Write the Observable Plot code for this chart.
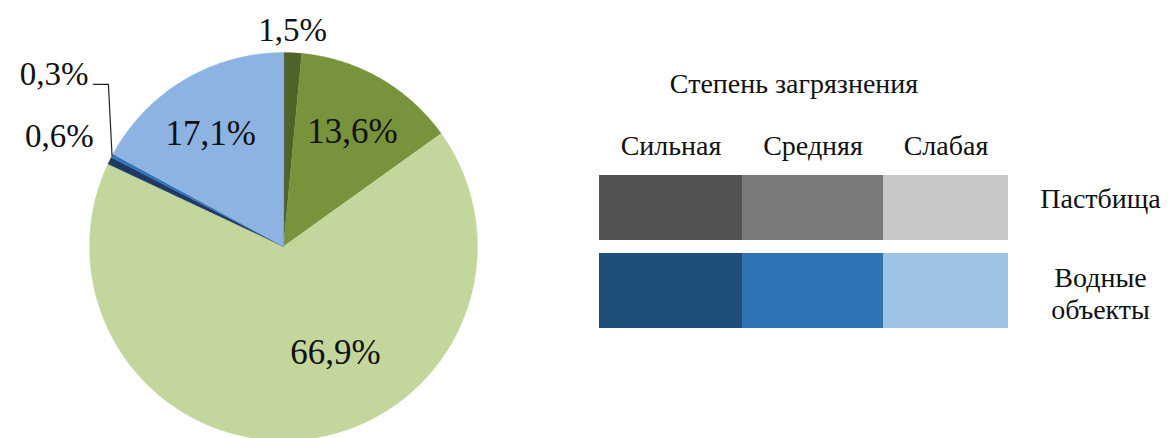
<!DOCTYPE html>
<html><head><meta charset="utf-8">
<script src="https://cdn.jsdelivr.net/npm/d3@7"></script>
<script src="https://cdn.jsdelivr.net/npm/@observablehq/plot@0.6"></script>
<style>html,body{margin:0;padding:0;background:#fff;overflow:hidden}</style>
</head><body><div id="chart"></div>
<script>
// ---- data ----
const sliceLabels = ["1,5%", "13,6%", "66,9%", "0,6%", "0,3%", "17,1%"];
const sliceValues = [1.5, 13.6, 66.9, 0.6, 0.3, 17.1];
const sliceColors = ["#4f6228", "#77933c", "#c3d69b", "#1f3864", "#2e75b6", "#8db3e2"];

const legendTitle = "Степень загрязнения";
const degrees = ["Сильная", "Средняя", "Слабая"];
const landTypes = ["Пастбища", "Водные\nобъекты"];
const legendColors = [
  ["#535353", "#7a7a7a", "#c8c8c8"],
  ["#1f4e79", "#2e74b5", "#9dc3e6"]
];

// ---- layout ----
const W = 1170, H = 438;
const cx = 283, cy = 246, R = 194;
// label placement per slice: radius factor, absolute angle (deg clockwise from top), anchor, size
const labelLayout = [
  {rf: 1.115, deg: 2.4, anchor: "middle", size: 33},
  {rf: 0.69, deg: 31, anchor: "middle", size: 35},
  {rf: 0.61, deg: 153.9, anchor: "middle", size: 35},
  {rf: 1.13, deg: 300.1, anchor: "end", size: 33},
  {rf: 1.34, deg: 311.4, anchor: "end", size: 33, leader: {rf: 1.23, deg: 312.8, run: 15}},
  {rf: 0.69, deg: 327.1, anchor: "middle", size: 35}
];
const colEdges = [599, 742, 883, 1008];
const rowEdges = [[175, 240], [253, 328]];
const titleY = 84, colLabelY = 146, rowLabelX = 1100;
const rowLabelDy = [-10, 2];
const FONT = "Liberation Serif, Times New Roman, serif";

const total = d3.sum(sliceValues);
const rad = d => d * Math.PI / 180;
const px = (r, deg) => cx + r * Math.sin(rad(deg));
const py = (r, deg) => cy - r * Math.cos(rad(deg));

// slice polygons
const slicePts = [];
const sliceInfo = [];
let acc = 0;
sliceValues.forEach((v, i) => {
  const a0 = acc / total * 360, a1 = (acc + v) / total * 360;
  acc += v;
  sliceInfo.push({a0, a1, mid: (a0 + a1) / 2});
  slicePts.push({k: sliceLabels[i], x: cx, y: cy});
  const n = Math.max(2, Math.ceil((a1 - a0) / 0.25));
  for (let j = 0; j <= n; j++) {
    const a = a0 + (a1 - a0) * j / n;
    slicePts.push({k: sliceLabels[i], x: px(R, a), y: py(R, a)});
  }
});

const labelData = sliceLabels.map((t, i) => ({
  t, anchor: labelLayout[i].anchor, size: labelLayout[i].size,
  x: px(R * labelLayout[i].rf, labelLayout[i].deg),
  y: py(R * labelLayout[i].rf, labelLayout[i].deg)
}));

const leaderPts = [];
labelLayout.forEach((L, i) => {
  if (!L.leader) return;
  const ex = px(R * L.leader.rf, L.leader.deg), ey = py(R * L.leader.rf, L.leader.deg);
  leaderPts.push({x: ex - L.leader.run, y: ey});
  leaderPts.push({x: ex, y: ey});
  leaderPts.push({x: px(R, sliceInfo[i].mid), y: py(R, sliceInfo[i].mid)});
});

const cells = [];
legendColors.forEach((row, r) => row.forEach((c, j) => {
  cells.push({key: landTypes[r] + "|" + degrees[j], color: c,
    x1: colEdges[j], x2: colEdges[j + 1], y1: rowEdges[r][0], y2: rowEdges[r][1]});
}));

const colLabels = degrees.map((d, j) => ({t: d, x: (colEdges[j] + colEdges[j + 1]) / 2, y: colLabelY}));
const rowLabels = landTypes.map((d, r) => ({t: d, x: rowLabelX, y: (rowEdges[r][0] + rowEdges[r][1]) / 2 + rowLabelDy[r]}));

const colorDomain = [...sliceLabels, ...cells.map(c => c.key)];
const colorRange = [...sliceColors, ...cells.map(c => c.color)];

const txt = {fontFamily: FONT, fill: "#111"};
const sizes = [...new Set(labelLayout.map(d => d.size))];
const chart = Plot.plot({
  width: W, height: H,
  margin: 0,
  x: {domain: [0, W], range: [0, W], axis: null},
  y: {domain: [0, H], range: [0, H], axis: null},
  color: {domain: colorDomain, range: colorRange},
  marks: [
    Plot.line(slicePts, {x: "x", y: "y", z: "k", fill: "k", stroke: "k", strokeWidth: 0.3, curve: "linear-closed"}),
    Plot.line(leaderPts, {x: "x", y: "y", stroke: "#222", strokeWidth: 1.2}),
    ...["middle", "end"].flatMap(a => sizes.map(s =>
      Plot.text(labelData.filter(d => d.anchor === a && d.size === s), {x: "x", y: "y", text: "t", textAnchor: a, fontSize: s, ...txt}))),
    Plot.rect(cells, {x1: "x1", x2: "x2", y1: "y1", y2: "y2", fill: "key"}),
    Plot.text([legendTitle], {x: () => (colEdges[0] + colEdges[3]) / 2 - 10, y: () => titleY, text: d => d, fontSize: 28, ...txt}),
    Plot.text(colLabels, {x: "x", y: "y", text: "t", fontSize: 28, ...txt}),
    Plot.text(rowLabels, {x: "x", y: "y", text: "t", fontSize: 28, lineHeight: 1.15, ...txt})
  ]
});
document.getElementById("chart").appendChild(chart);
</script>
</body></html>
